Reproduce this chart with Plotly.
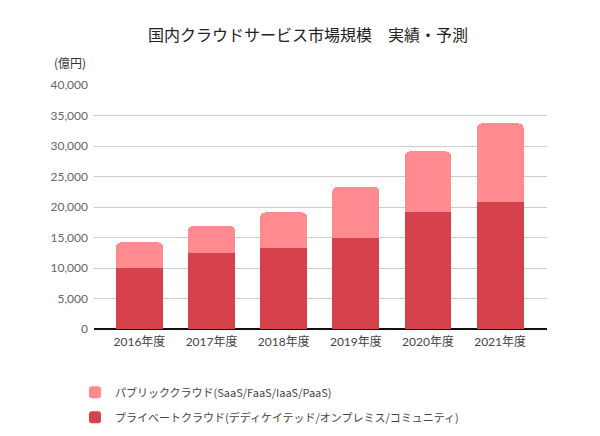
import plotly.graph_objects as go

categories = ["2016年度", "2017年度", "2018年度", "2019年度", "2020年度", "2021年度"]
private_cloud = [10000, 12500, 13200, 15000, 19100, 20800]
public_cloud = [4200, 4400, 5900, 8300, 10000, 12900]
public_name = "パブリッククラウド(SaaS/FaaS/IaaS/PaaS)"
private_name = "プライベートクラウド(デディケイテッド/オンプレミス/コミュニティ)"
title_text = "国内クラウドサービス市場規模　実績・予測"
unit_text = "(億円)"

FONT = "Lato, 'Noto Sans CJK JP', sans-serif"

fig = go.Figure()
fig.add_trace(go.Bar(
    x=categories, y=private_cloud, name=private_name,
    marker=dict(color="#D6424C", line=dict(width=0)),
    legendgroup="b", legendrank=2,
))
fig.add_trace(go.Bar(
    x=categories, y=public_cloud, name=public_name,
    marker=dict(color="#FF8A8F", line=dict(width=0)),
    legendgroup="a", legendrank=1,
))

fig.update_layout(
    width=600, height=436,
    barmode="stack",
    bargap=0.35,
    barcornerradius=5,
    plot_bgcolor="white", paper_bgcolor="white",
    margin=dict(l=86, r=61, t=77, b=115),
    font=dict(family=FONT, size=12, color="#444"),
    title=dict(text=title_text, x=0.5, xanchor="center", y=0.938, yanchor="middle",
               font=dict(family="'Noto Sans CJK JP', sans-serif", size=16, color="#222")),
    legend=dict(orientation="v", x=-0.042, xanchor="left", y=-0.20, yanchor="top",
                font=dict(family="'Noto Sans CJK JP', sans-serif", size=11, color="#444"),
                tracegroupgap=6, traceorder="grouped"),
    xaxis=dict(range=[-0.63, 5.65], showgrid=False, ticks="", showline=False,
               ticklabelstandoff=4,
               tickfont=dict(size=12, color="#444")),
    yaxis=dict(range=[0, 40000], dtick=5000, tickformat=",", showgrid=True,
               gridcolor="#CCCCCC", gridwidth=1, zeroline=True, zerolinecolor="#111",
               zerolinewidth=1.5, ticks="", ticklabelstandoff=5,
               tickfont=dict(size=12, color="#666")),
    annotations=[dict(text=unit_text, xref="paper", yref="paper", x=-0.014, y=1.092,
                      xanchor="right", yanchor="middle", showarrow=False,
                      font=dict(family="'Noto Sans CJK JP', sans-serif", size=12, color="#333"))],
)

fig.write_html("out.html")
